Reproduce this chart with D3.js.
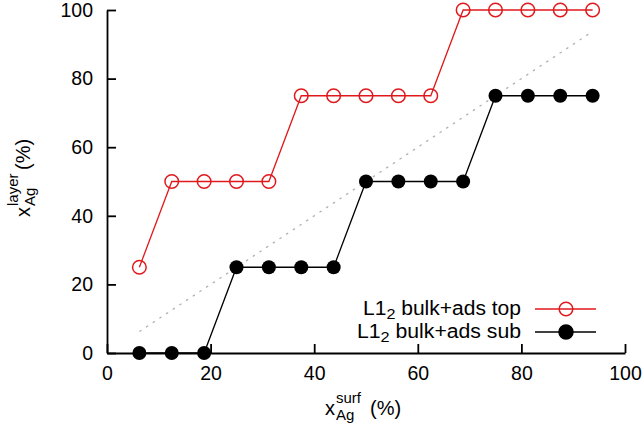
<!DOCTYPE html>
<html><head><meta charset="utf-8">
<script src="https://cdn.jsdelivr.net/npm/d3@7"></script>
<style>body{margin:0;background:#fff}svg{display:block}text{font-family:"Liberation Sans",Arial,sans-serif}</style>
</head><body>
<svg id="c" width="642" height="428"></svg>
<script>
const xSurf = [6.25,12.5,18.75,25,31.25,37.5,43.75,50,56.25,62.5,68.75,75,81.25,87.5,93.75];
const topVals = [25,50,50,50,50,75,75,75,75,75,100,100,100,100,100];
const subVals = [0,0,0,25,25,25,25,50,50,50,50,75,75,75,75];
const diag = [[6.25,6.25],[93.75,93.75]];
const xTicks = [0,20,40,60,80,100];
const yTicks = [0,20,40,60,80,100];
const legendLabels = ["bulk+ads top","bulk+ads sub"];

const svg = d3.select("#c");
const L=107,R=625,T=10,B=353;
const x = d3.scaleLinear().domain([0,100]).range([L,R]);
const y = d3.scaleLinear().domain([0,100]).range([B,T]);
const fs = 19.5, sfs = 15;

function fit(sel, w){ sel.attr("textLength", w).attr("lengthAdjust","spacingAndGlyphs"); }

const xa = svg.append("g").attr("transform",`translate(0,${B})`)
  .call(d3.axisBottom(x).tickValues(xTicks).tickSizeInner(-9).tickSizeOuter(0).tickPadding(13));
const ya = svg.append("g").attr("transform",`translate(${L},0)`)
  .call(d3.axisLeft(y).tickValues(yTicks).tickSizeInner(-9).tickSizeOuter(0).tickPadding(14));
[xa,ya].forEach(a=>{a.selectAll("path,line").attr("stroke","#000").attr("stroke-width",1.8);
  a.selectAll("text").attr("font-size",fs).attr("fill","#000").style("font-family","Liberation Sans, Arial, sans-serif");});

// diagonal
svg.append("path").datum(diag)
  .attr("d",d3.line().x(d=>x(d[0])).y(d=>y(d[1])))
  .attr("stroke","#b0b0b0").attr("stroke-width",1.3).attr("stroke-dasharray","2.5,5.5").attr("fill","none");

const line = d3.line().x(d=>x(d[0])).y(d=>y(d[1]));
const topData = xSurf.map((v,i)=>[v,topVals[i]]);
const subData = xSurf.map((v,i)=>[v,subVals[i]]);

svg.append("path").datum(topData).attr("d",line).attr("stroke","#e0191c").attr("stroke-width",1.3).attr("fill","none");
svg.append("path").datum(subData).attr("d",line).attr("stroke","#000").attr("stroke-width",1.3).attr("fill","none");

svg.selectAll(".pt").data(topData).enter().append("circle")
  .attr("cx",d=>x(d[0])).attr("cy",d=>y(d[1])).attr("r",6.8)
  .attr("fill","none").attr("stroke","#e0191c").attr("stroke-width",1.5);
svg.selectAll(".ps").data(subData).enter().append("circle")
  .attr("cx",d=>x(d[0])).attr("cy",d=>y(d[1])).attr("r",7).attr("fill","#000");

// legend
const leg = [{label:legendLabels[0],col:"#e0191c",fill:"none",y:309,x0:363},{label:legendLabels[1],col:"#000",fill:"#000",y:332,x0:357}];
leg.forEach(l=>{
  const t = svg.append("text").attr("x",l.x0).attr("y",l.y+6).attr("font-size",fs);
  t.append("tspan").text("L1");
  t.append("tspan").attr("dy",4).attr("font-size",sfs).text("2");
  t.append("tspan").attr("dy",-4).text(" "+l.label);
  fit(t, 521-l.x0);
  svg.append("line").attr("x1",535).attr("x2",596).attr("y1",l.y).attr("y2",l.y).attr("stroke",l.col).attr("stroke-width",1.3);
  svg.append("circle").attr("cx",566).attr("cy",l.y).attr("r",l.fill==="none"?6.8:7).attr("fill",l.fill).attr("stroke",l.col).attr("stroke-width",1.5);
});

// axis labels built from separate text pieces
function axisLabel(g, sub, sup, tailX){
  g.append("text").attr("x",0).attr("y",0).attr("font-size",fs+0.5).text("x");
  g.append("text").attr("x",11).attr("y",5).attr("font-size",sfs).text(sub);
  g.append("text").attr("x",11).attr("y",-12).attr("font-size",sfs).text(sup);
  g.append("text").attr("x",tailX).attr("y",0).attr("font-size",fs+0.5).text("(%)");
}
const gx = svg.append("g").attr("transform","translate(325,415)");
axisLabel(gx,"Ag","surf",45);
const gy = svg.append("g").attr("transform","translate(30,217) rotate(-90)");
axisLabel(gy,"Ag","layer",47);
</script>
</body></html>
